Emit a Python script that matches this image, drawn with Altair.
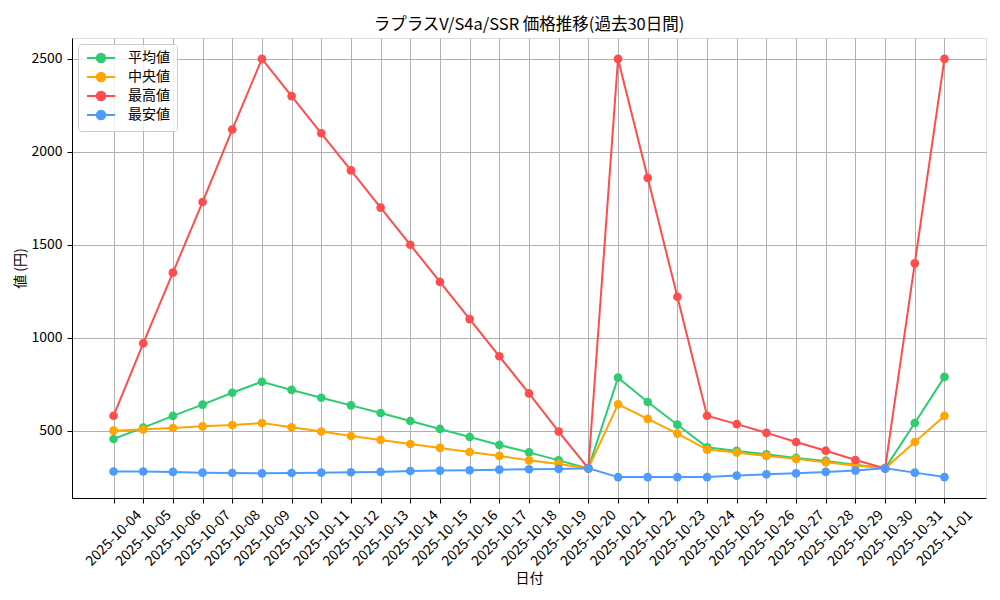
import altair as alt
import pandas as pd

dates = [
    "2025-10-04", "2025-10-05", "2025-10-06", "2025-10-07", "2025-10-08",
    "2025-10-09", "2025-10-10", "2025-10-11", "2025-10-12", "2025-10-13",
    "2025-10-14", "2025-10-15", "2025-10-16", "2025-10-17", "2025-10-18",
    "2025-10-19", "2025-10-20", "2025-10-21", "2025-10-22", "2025-10-23",
    "2025-10-24", "2025-10-25", "2025-10-26", "2025-10-27", "2025-10-28",
    "2025-10-29", "2025-10-30", "2025-10-31", "2025-11-01",
]

mean_vals = [455, 516, 579, 640, 704, 763, 719, 677, 636, 595, 552, 509, 466, 423, 383,
             340, 297, 785, 654, 532, 410, 391, 373, 353, 337, 317, 297, 541, 789]
median_vals = [500, 507, 514, 523, 530, 541, 518, 495, 471, 450, 428, 407, 385, 364, 340,
               321, 297, 642, 563, 484, 398, 382, 364, 348, 330, 313, 297, 439, 579]
max_vals = [580, 970, 1350, 1730, 2120, 2500, 2300, 2100, 1900, 1700, 1500, 1300, 1100, 900, 700,
            495, 297, 2500, 1860, 1220, 580, 535, 488, 439, 392, 342, 297, 1400, 2500]
min_vals = [280, 280, 278, 274, 272, 270, 272, 274, 276, 278, 283, 285, 287, 290, 292,
            294, 297, 250, 250, 250, 250, 258, 265, 270, 278, 285, 297, 274, 250]

series_names = ["平均値", "中央値", "最高値", "最安値"]
series_colors = ["#2ecc71", "#ffa500", "#ff4d4d", "#4d9bff"]
y_ticks = [500, 1000, 1500, 2000, 2500]

rows = []
for name, vals in zip(series_names, [mean_vals, median_vals, max_vals, min_vals]):
    for i, (d, v) in enumerate(zip(dates, vals)):
        rows.append({"idx": i, "date": d, "series": name, "value": v})
df = pd.DataFrame(rows)

n = len(dates)
x_margin = 0.05 * (n - 1)
date_expr = "[" + ",".join("'" + d + "'" for d in dates) + "][datum.value]"

FONT = "Noto Sans CJK JP"

legend = alt.Legend(
    title=None,
    orient="top-left",
    offset=6,
    symbolType="M-2.8,0L2.8,0M-0.85,0A0.85,0.85 0 1,1 0.85,0A0.85,0.85 0 1,1 -0.85,0Z",
    symbolSize=100,
    symbolStrokeWidth=2,
    symbolOffset=9,
    labelFont=FONT,
    labelFontSize=14,
    labelColor="#000000",
    labelOffset=20,
    rowPadding=1,
    padding=7,
    fillColor="rgba(255,255,255,0.8)",
    strokeColor="#cccccc",
    cornerRadius=3,
)

base = alt.Chart(df).encode(
    x=alt.X(
        "idx:Q",
        scale=alt.Scale(domain=[-x_margin, n - 1 + x_margin], nice=False, zero=False),
        axis=alt.Axis(
            title="日付",
            titleFont=FONT,
            titleFontSize=14,
            titleFontWeight="normal",
            titleColor="#000000",
            titleX=457,
            titleY=80,
            titleBaseline="middle",
            values=list(range(n)),
            labelExpr=date_expr,
            labelFont=FONT,
            labelFontSize=14,
            labelColor="#000000",
            labelAngle=-45,
            labelAlign="center",
            labelBaseline="middle",
            labelPadding=35,
            labelFlush=False,
            tickSize=5,
            tickColor="#000000",
            domainColor="#000000",
            grid=True,
            gridColor="#b0b0b0",
            gridWidth=1,
            labelOverlap=False,
        ),
    ),
    y=alt.Y(
        "value:Q",
        scale=alt.Scale(domain=[137.5, 2612.5], nice=False, zero=False),
        axis=alt.Axis(
            title="値 (円)",
            titleFont=FONT,
            titleFontSize=14,
            titleFontWeight="normal",
            titleColor="#000000",
            titleX=-52,
            titleY=230,
            titleAlign="center",
            titleBaseline="middle",
            values=y_ticks,
            format="d",
            labelFont=FONT,
            labelFontSize=14,
            labelColor="#000000",
            labelPadding=5,
            tickSize=5,
            tickColor="#000000",
            domainColor="#000000",
            grid=True,
            gridColor="#b0b0b0",
            gridWidth=1,
        ),
    ),
    color=alt.Color(
        "series:N",
        scale=alt.Scale(domain=series_names, range=series_colors),
        legend=legend,
    ),
)

layers = []
for name in series_names:
    b = base.transform_filter(alt.datum.series == name)
    layers.append(b.mark_line(strokeWidth=2))
    layers.append(b.mark_point(filled=True, size=75, opacity=1))

chart = (
    alt.layer(*layers)
    .properties(
        width=914,
        height=460,
        title=alt.TitleParams(
            "ラプラスV/S4a/SSR 価格推移(過去30日間)",
            font=FONT,
            fontSize=16.5,
            fontWeight="normal",
            color="#000000",
            anchor="middle",
            frame="group",
            baseline="bottom",
            offset=8,
            dy=19,
        ),
        autosize=alt.AutoSizeParams(type="none"),
        padding={"left": 64, "top": 30, "right": 6, "bottom": 94},
    )
    .configure_view(stroke="#000000", strokeWidth=1.1)
    .configure(background="white")
)

chart.save("out.html", embed_options={"renderer": "svg", "actions": False})
